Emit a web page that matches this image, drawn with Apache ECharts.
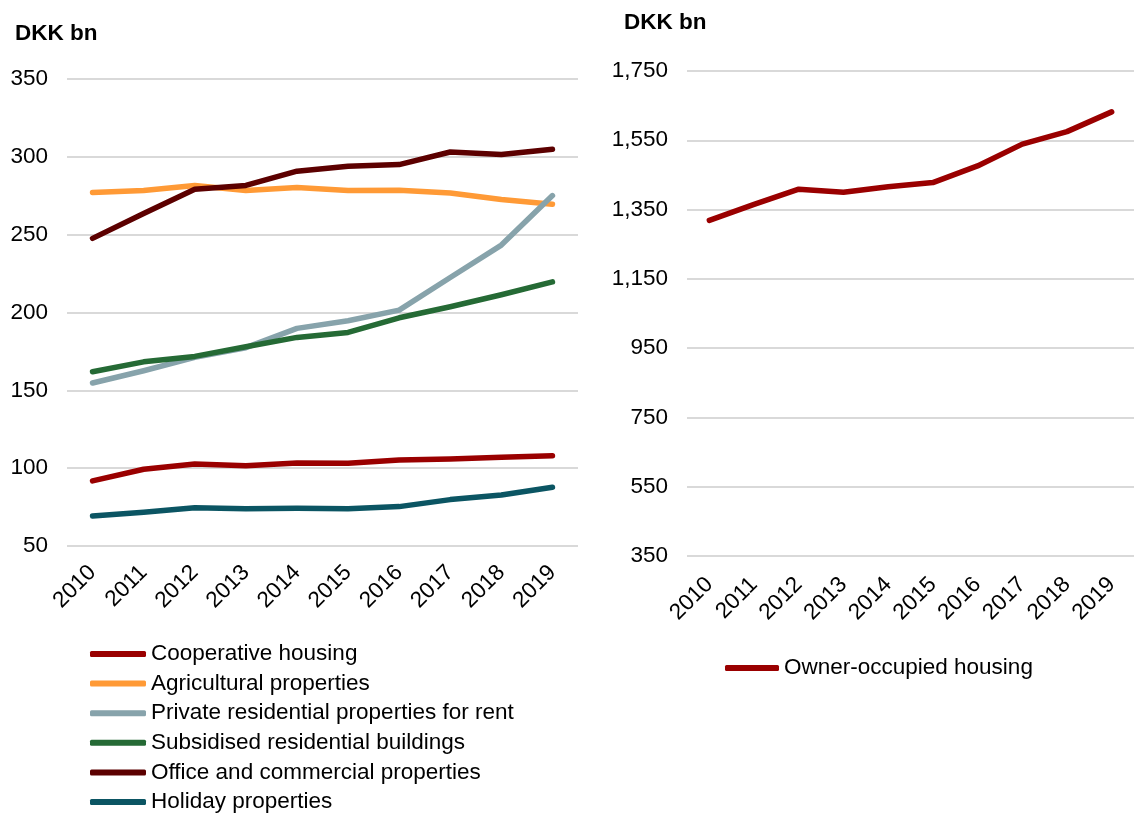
<!DOCTYPE html>
<html>
<head>
<meta charset="utf-8">
<title>Property values, DKK bn</title>
<script src="https://cdn.jsdelivr.net/npm/echarts@6/dist/echarts.min.js"></script>
<style>
  html, body { margin: 0; padding: 0; background: #fff; }
  #chart { width: 1134px; height: 813px; }
</style>
</head>
<body>
<div id="chart"></div>
<script>
// Years on both category axes
const years = ['2010', '2011', '2012', '2013', '2014', '2015', '2016', '2017', '2018', '2019'];

// Left panel series, DKK bn
const cooperativeHousing = [91.8, 99.3, 102.7, 101.6, 103.3, 103.1, 105.3, 105.9, 107.0, 108.0];
const agriculturalProperties = [277.1, 278.4, 281.6, 278.4, 280.3, 278.4, 278.6, 276.8, 272.6, 269.6];
const privateRental = [154.7, 162.6, 171.2, 177.4, 189.8, 194.7, 201.5, 222.5, 243.3, 275.1];
const subsidisedResidential = [161.9, 168.3, 171.8, 178.0, 184.0, 187.2, 196.6, 203.7, 211.4, 219.7];
const officeCommercial = [247.6, 263.6, 279.2, 281.6, 290.8, 294.0, 295.0, 303.1, 301.5, 304.9];
const holidayProperties = [69.3, 71.7, 74.5, 74.0, 74.2, 74.0, 75.3, 79.8, 82.8, 87.8];

// Right panel series, DKK bn
const ownerOccupied = [1319, 1365, 1409, 1400, 1416, 1428, 1476, 1539, 1575, 1632];

// Axis ranges
const leftAxis = { min: 50, max: 350, interval: 50 };
const rightAxis = { min: 350, max: 1750, interval: 200 };

const leftSeries = [
  { name: 'Cooperative housing', data: cooperativeHousing, color: '#9a0000' },
  { name: 'Agricultural properties', data: agriculturalProperties, color: '#ff9a36' },
  { name: 'Private residential properties for rent', data: privateRental, color: '#87a3ab' },
  { name: 'Subsidised residential buildings', data: subsidisedResidential, color: '#256a35' },
  { name: 'Office and commercial properties', data: officeCommercial, color: '#5c0000' },
  { name: 'Holiday properties', data: holidayProperties, color: '#0b5563' }
];

const FONT = 'Liberation Sans, Arial, sans-serif';
const FONT_SIZE = 22.5;
const LINE_WIDTH = 5.5;
const textColor = '#000';
const gridColor = '#d9d9d9';

function xAxisFor(gridIndex, margin) {
  return {
    type: 'category',
    gridIndex,
    data: years,
    boundaryGap: true,
    axisLine: { show: false },
    axisTick: { show: false },
    axisLabel: { rotate: 45, margin, color: textColor, fontSize: FONT_SIZE, fontFamily: FONT }
  };
}

function yAxisFor(gridIndex, range, fmt) {
  return {
    type: 'value',
    gridIndex,
    min: range.min,
    max: range.max,
    interval: range.interval,
    axisLine: { show: false },
    axisTick: { show: false },
    splitLine: { lineStyle: { color: gridColor, width: 2 } },
    axisLabel: { margin: 19, color: textColor, fontSize: FONT_SIZE, fontFamily: FONT, formatter: fmt }
  };
}

function lineSeries(s, idx) {
  return {
    type: 'line',
    name: s.name,
    xAxisIndex: idx,
    yAxisIndex: idx,
    data: s.data,
    symbol: 'none',
    color: s.color,
    lineStyle: { width: LINE_WIDTH, color: s.color, cap: 'round', join: 'round' },
    animation: false
  };
}

const legendText = { color: textColor, fontSize: FONT_SIZE, fontFamily: FONT, lineHeight: 24 };
const titleText = { fontSize: FONT_SIZE, fontWeight: 'bold', fontFamily: FONT, color: textColor };

const option = {
  backgroundColor: '#fff',
  animation: false,
  title: [
    { text: 'DKK bn', left: 10, top: 17, textStyle: titleText },
    { text: 'DKK bn', left: 619, top: 6, textStyle: titleText }
  ],
  grid: [
    { left: 67, top: 79, width: 511, height: 467 },
    { left: 687, top: 71, width: 460, height: 485 }
  ],
  xAxis: [xAxisFor(0, 23), xAxisFor(1, 25)],
  yAxis: [
    yAxisFor(0, leftAxis, v => String(v)),
    yAxisFor(1, rightAxis, v => v.toLocaleString('en-US'))
  ],
  legend: [
    {
      orient: 'vertical',
      left: 90,
      top: 642,
      height: 200,
      padding: 0,
      itemWidth: 56,
      itemHeight: 6,
      itemGap: 5.6,
      icon: 'roundRect',
      textStyle: legendText,
      data: leftSeries.map(s => s.name)
    },
    {
      orient: 'vertical',
      left: 725,
      top: 656,
      padding: 0,
      itemWidth: 54,
      itemHeight: 6,
      icon: 'roundRect',
      textStyle: legendText,
      data: ['Owner-occupied housing']
    }
  ],
  series: [
    ...leftSeries.map(s => lineSeries(s, 0)),
    lineSeries({ name: 'Owner-occupied housing', data: ownerOccupied, color: '#9a0000' }, 1)
  ]
};

const chart = echarts.init(document.getElementById('chart'), null, { renderer: 'canvas' });
chart.setOption(option);
</script>
</body>
</html>
